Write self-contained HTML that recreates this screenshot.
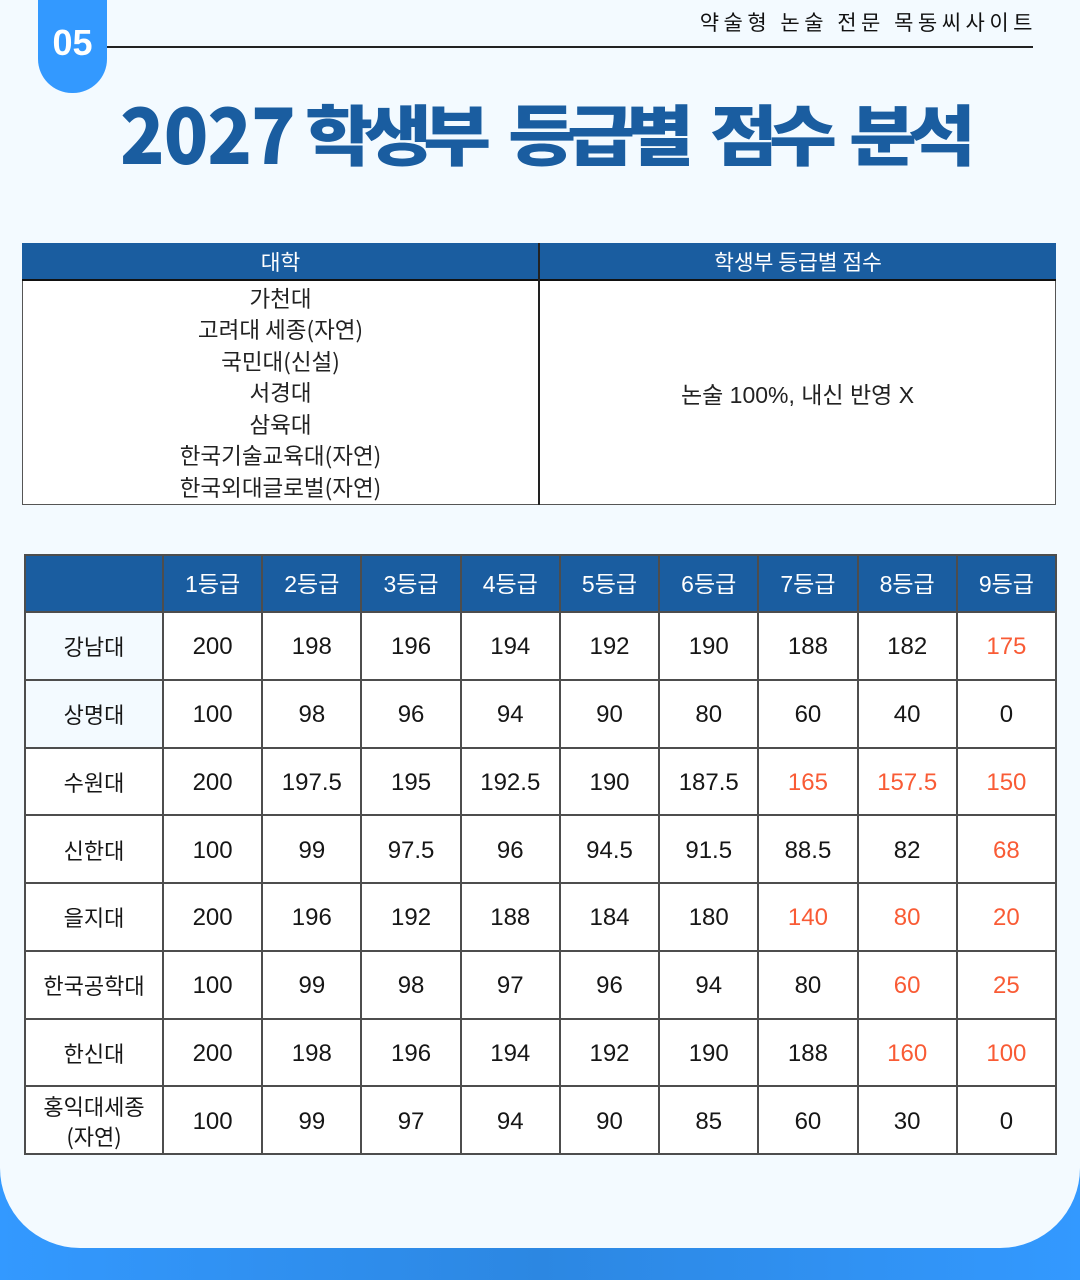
<!DOCTYPE html>
<html><head><meta charset="utf-8">
<style>
*{margin:0;padding:0;box-sizing:border-box}
html,body{width:1080px;height:1280px;overflow:hidden}
body{background:linear-gradient(90deg,#3399ff 0%,#2c87e2 50%,#3399ff 100%);position:relative;font-family:"Liberation Sans","Noto Sans CJK KR",sans-serif;}
.card{position:absolute;left:0;top:0;width:1080px;height:1248px;background:#f3faff;border-radius:0 0 80px 80px}
.badge{position:absolute;left:38px;top:0;width:69px;height:93px;background:#3399ff;border-radius:0 0 34px 34px}
.badge span{position:absolute;left:0;width:69px;top:24px;text-align:center;color:#fff;font:bold 36px/38px "Liberation Sans",sans-serif}
.hline{position:absolute;left:107px;top:46px;width:926px;height:2px;background:#222}
.tag{position:absolute;right:43px;top:12px;font:400 21px/21px "Noto Sans CJK KR",sans-serif;letter-spacing:4.5px;color:#111;white-space:nowrap}
.tw{position:absolute;color:#1a5da0;font-family:"Noto Sans CJK KR",sans-serif;font-weight:900;white-space:nowrap;transform-origin:0 50%}
.hg{font-size:66px;line-height:66px;letter-spacing:-8px;top:99px;transform:scaleX(1.12)}
.dg{font-size:78px;line-height:78px;letter-spacing:-1px;top:92px;transform:scaleX(0.94)}
.t1{position:absolute;left:22px;top:243px;width:1034px;height:262px;border:1.5px solid #555;background:#fff}
.t1h{position:absolute;left:22px;top:243px;width:1034px;height:38px;background:#1a5da0;border-bottom:2px solid #111}
.t1v{position:absolute;left:538px;top:243px;width:2px;height:262px;background:#222}
.t1ht{position:absolute;top:243px;height:37px;display:flex;align-items:center;justify-content:center;color:#fff;font-size:21.5px;font-family:"Noto Sans CJK KR",sans-serif}
.t1b{position:absolute;left:22px;top:282px;width:517px;height:222px;display:flex;flex-direction:column;align-items:center;justify-content:center;font-size:22.5px;line-height:31.4px;color:#222;font-family:"Noto Sans CJK KR",sans-serif}
.t1r{position:absolute;left:540px;top:282px;width:515px;height:222px;display:flex;align-items:center;justify-content:center;font-size:23px;color:#222}
.g{position:absolute;left:24px;top:554px;width:1033px;height:601px;background:#4d4d4d;padding:2px;display:grid;gap:2px;grid-template-columns:136px repeat(9,1fr);grid-template-rows:55px repeat(8,1fr)}
.g div{background:#fff;display:flex;align-items:center;justify-content:center;text-align:center;font-size:24px;color:#161616;line-height:30px;padding-top:3px}
.g .h{background:#1a5da0;color:#fff;font-size:23px;padding-top:0}
.g .n{font-family:"Noto Sans CJK KR",sans-serif;font-size:22px;padding-top:1px}
.g .lb{background:#f3faff}
.g .o{color:#f95b35}
</style></head><body>
<div class="card"></div>
<div class="badge"><span>05</span></div>
<div class="hline"></div>
<div class="tag">약술형 논술 전문 목동씨사이트</div>

<div class="tw dg" style="left:120px">2027</div>
<div class="tw hg" style="left:305px">학생부</div>
<div class="tw hg" style="left:508px">등급별</div>
<div class="tw hg" style="left:710px">점수</div>
<div class="tw hg" style="left:849px">분석</div>

<div class="t1"></div>
<div class="t1h"></div>
<div class="t1v"></div>
<div class="t1ht" style="left:22px;width:517px">대학</div>
<div class="t1ht" style="left:540px;width:516px">학생부 등급별 점수</div>
<div class="t1b">
<div>가천대</div>
<div>고려대 세종(자연)</div>
<div>국민대(신설)</div>
<div>서경대</div>
<div>삼육대</div>
<div>한국기술교육대(자연)</div>
<div>한국외대글로벌(자연)</div>
</div>
<div class="t1r">논술 100%, 내신 반영 X</div>

<div class="g">
<div class="h"></div><div class="h">1등급</div><div class="h">2등급</div><div class="h">3등급</div><div class="h">4등급</div><div class="h">5등급</div><div class="h">6등급</div><div class="h">7등급</div><div class="h">8등급</div><div class="h">9등급</div>

<div class="n lb">강남대</div><div>200</div><div>198</div><div>196</div><div>194</div><div>192</div><div>190</div><div>188</div><div>182</div><div class="o">175</div>

<div class="n lb">상명대</div><div>100</div><div>98</div><div>96</div><div>94</div><div>90</div><div>80</div><div>60</div><div>40</div><div>0</div>

<div class="n">수원대</div><div>200</div><div>197.5</div><div>195</div><div>192.5</div><div>190</div><div>187.5</div><div class="o">165</div><div class="o">157.5</div><div class="o">150</div>

<div class="n">신한대</div><div>100</div><div>99</div><div>97.5</div><div>96</div><div>94.5</div><div>91.5</div><div>88.5</div><div>82</div><div class="o">68</div>

<div class="n">을지대</div><div>200</div><div>196</div><div>192</div><div>188</div><div>184</div><div>180</div><div class="o">140</div><div class="o">80</div><div class="o">20</div>

<div class="n">한국공학대</div><div>100</div><div>99</div><div>98</div><div>97</div><div>96</div><div>94</div><div>80</div><div class="o">60</div><div class="o">25</div>

<div class="n">한신대</div><div>200</div><div>198</div><div>196</div><div>194</div><div>192</div><div>190</div><div>188</div><div class="o">160</div><div class="o">100</div>

<div class="n">홍익대세종<br>(자연)</div><div>100</div><div>99</div><div>97</div><div>94</div><div>90</div><div>85</div><div>60</div><div>30</div><div>0</div>
</div>
</body></html>
